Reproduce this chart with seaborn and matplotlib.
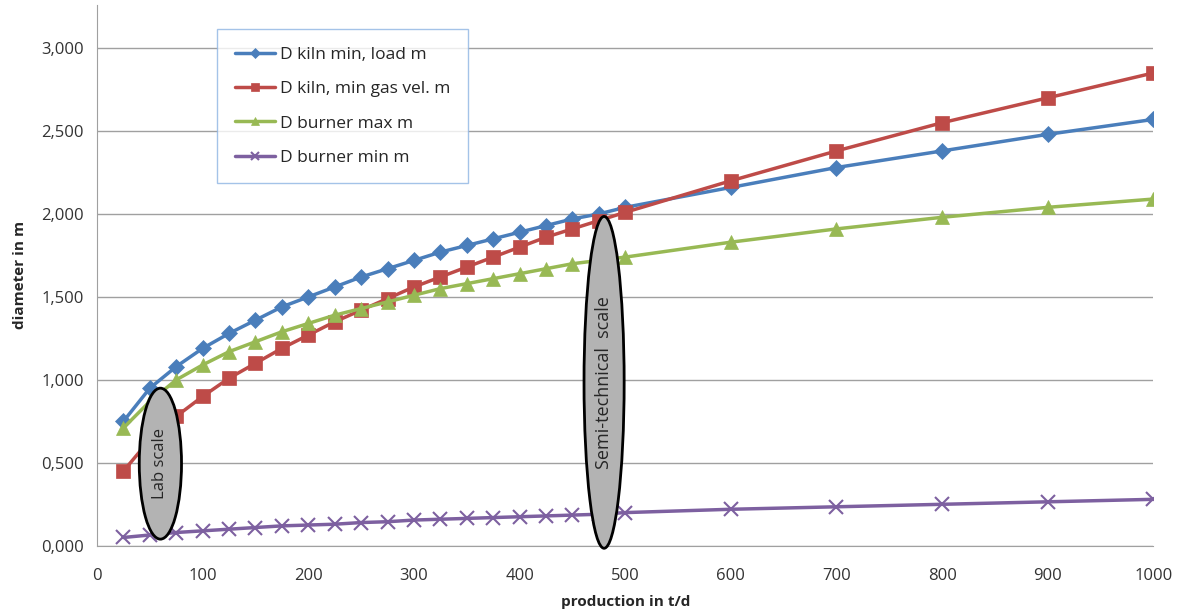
import numpy as np
import pandas as pd
import matplotlib
matplotlib.use("Agg")
import matplotlib.pyplot as plt
import seaborn as sns
from matplotlib.patches import Ellipse
from matplotlib.ticker import FuncFormatter

# -----------------------------
# DATA
# -----------------------------
production = [25, 50, 75, 100, 125, 150, 175, 200, 225, 250, 275, 300, 325,
              350, 375, 400, 425, 450, 475, 500, 600, 700, 800, 900, 1000]

kiln_min_load = [0.75, 0.95, 1.08, 1.19, 1.28, 1.36, 1.44, 1.50, 1.56, 1.62,
                 1.67, 1.72, 1.77, 1.81, 1.85, 1.89, 1.93, 1.97, 2.00, 2.04,
                 2.16, 2.28, 2.38, 2.48, 2.57]
kiln_min_gas = [0.45, 0.64, 0.78, 0.90, 1.01, 1.10, 1.19, 1.27, 1.35, 1.42,
                1.49, 1.56, 1.62, 1.68, 1.74, 1.80, 1.86, 1.91, 1.96, 2.01,
                2.20, 2.38, 2.55, 2.70, 2.85]
burner_max = [0.71, 0.87, 1.00, 1.09, 1.17, 1.23, 1.29, 1.34, 1.39, 1.43,
              1.47, 1.51, 1.55, 1.58, 1.61, 1.64, 1.67, 1.70, 1.72, 1.74,
              1.83, 1.91, 1.98, 2.04, 2.09]
burner_min = [0.05, 0.065, 0.08, 0.09, 0.10, 0.11, 0.12, 0.125, 0.13, 0.14,
              0.145, 0.155, 0.16, 0.165, 0.17, 0.175, 0.18, 0.185, 0.19, 0.20,
              0.22, 0.235, 0.25, 0.265, 0.28]

labels = ["D kiln min, load m", "D kiln, min gas vel. m",
          "D burner max m", "D burner min m"]
colors = ["#4A7EBB", "#BE4B48", "#98B954", "#7D60A0"]
markers = ["D", "s", "^", "x"]
msizes = [8, 10, 10, 10]

# -----------------------------
# PLOT
# -----------------------------
sns.set_style("white")
plt.rcParams["font.family"] = ["Open Sans", "DejaVu Sans"]

fig = plt.figure(figsize=(11.83, 6.16), dpi=100)
ax = fig.add_axes([0.082, 0.114, 0.893, 0.878])

series = [kiln_min_load, kiln_min_gas, burner_max, burner_min]
for vals, lab, col, mk, ms in zip(series, labels, colors, markers, msizes):
    sns.lineplot(x=production, y=vals, ax=ax, color=col, marker=mk,
                 markersize=ms, linewidth=2.5, label=lab,
                 markeredgecolor=col, markeredgewidth=1.5 if mk == "x" else 0.5)

ax.set_xlim(0, 1000)
ax.set_ylim(0, 3.26)
ax.set_xticks(np.arange(0, 1001, 100))
ax.set_yticks(np.arange(0, 3.01, 0.5))
ax.yaxis.set_major_formatter(FuncFormatter(lambda v, p: f"{v:.3f}".replace(".", ",")))

ax.grid(axis="y", color="#a0a0a0", linewidth=1)
ax.grid(axis="x", visible=False)
for s in ["top", "right"]:
    ax.spines[s].set_visible(False)
for s in ["left", "bottom"]:
    ax.spines[s].set_color("#a0a0a0")
ax.tick_params(axis="both", direction="out", length=6, color="#a0a0a0",
               labelsize=12, labelcolor="#333333")
ax.tick_params(axis="x", pad=10)

ax.set_xlabel("production in t/d", fontsize=11, fontweight="bold", labelpad=8)
ax.set_ylabel("diameter in m", fontsize=11, fontweight="bold", labelpad=10)

# scale annotations
e1 = Ellipse((60, 0.495), width=40, height=0.91, facecolor="#b3b3b3",
             edgecolor="black", linewidth=2, zorder=5, clip_on=False)
ax.add_patch(e1)
ax.text(60, 0.495, "Lab scale", rotation=90, ha="center", va="center",
        fontsize=12, zorder=6)
e2 = Ellipse((480, 0.985), width=38, height=2.0, facecolor="#b3b3b3",
             edgecolor="black", linewidth=2, zorder=5, clip_on=False)
ax.add_patch(e2)
ax.text(480, 0.985, "Semi-technical  scale", rotation=90, ha="center",
        va="center", fontsize=13, zorder=6)

leg = ax.legend(loc="upper left", bbox_to_anchor=(0.114, 0.955),
                frameon=True, fancybox=False, fontsize=12.5,
                handlelength=2.3, labelspacing=1.05, borderpad=1.0,
                handletextpad=0.3, borderaxespad=0, markerscale=0.6)
leg.get_frame().set_edgecolor("#8eb4e3")
leg.get_frame().set_linewidth(1)

plt.savefig("out.png", dpi=100)
plt.close()
